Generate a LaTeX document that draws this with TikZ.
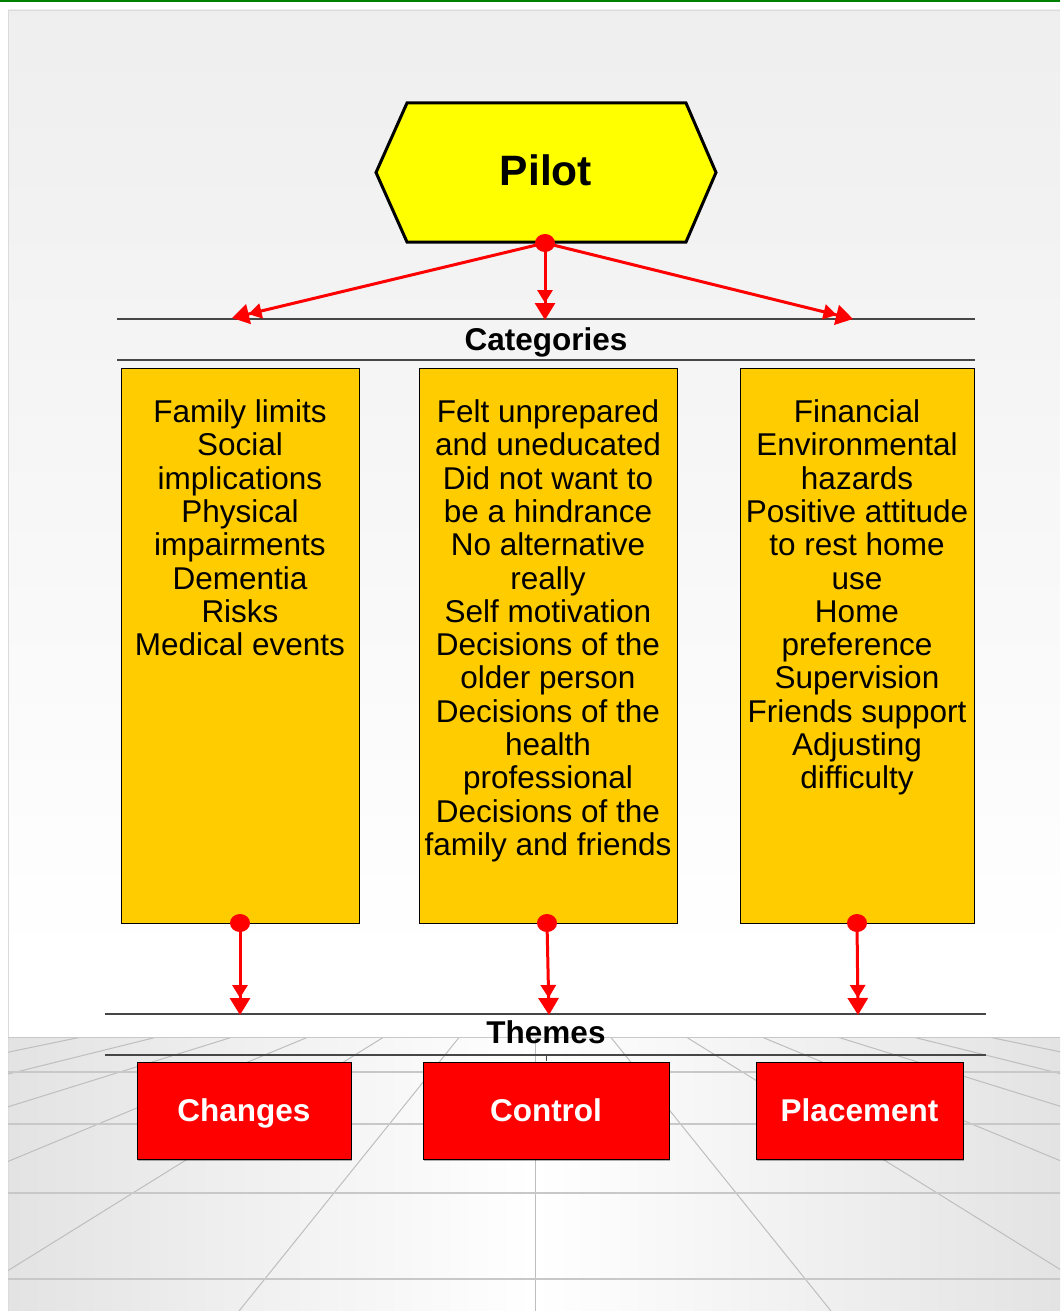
\documentclass[tikz,border=0pt]{standalone}
\usepackage{fontspec}
\setmainfont{Liberation Sans}
\usetikzlibrary{arrows.meta,shapes.geometric,shadows}

\definecolor{pilotyellow}{RGB}{255,255,0}
\definecolor{catorange}{RGB}{255,204,0}
\definecolor{themered}{RGB}{255,0,0}
\definecolor{topgreen}{RGB}{0,128,0}
\definecolor{rulegray}{RGB}{70,70,70}
\definecolor{floorline}{RGB}{200,200,200}
\definecolor{floorray}{RGB}{190,190,190}

\begin{document}
\begin{tikzpicture}[x=1pt,y=-1pt,
  body/.style={font=\fontsize{31.5}{33.3}\selectfont},
  hdr/.style={font=\fontsize{31.5}{33.3}\selectfont\bfseries, anchor=base, inner sep=0pt},
  catbox/.style={draw=black, line width=0.8pt, fill=catorange, inner sep=0pt},
  cattext/.style={body, align=center, anchor=north, inner sep=0pt},
  themebox/.style={draw=black, line width=1pt, fill=themered, inner sep=0pt,
    minimum height=97pt, text=white, text height=25pt, text depth=2.6pt,
    font=\fontsize{31.5}{33.3}\selectfont\bfseries,
    drop shadow={shadow xshift=1pt, shadow yshift=-2pt, opacity=0.3, fill=black}},
  rule/.style={draw=rulegray, line width=1.3pt},
  dot/.style={shape=ellipse, fill=red, inner sep=0pt, minimum width=20pt, minimum height=18pt},
  conn/.style={draw=red, line width=3pt,
    -{Triangle[length=13pt,width=15pt] Triangle[length=17pt,width=20pt]}},
]
\useasboundingbox (0,0) rectangle (1060,1311);

% page and backdrop
\fill[white] (0,0) rectangle (1060,1311);
\fill[topgreen] (0,0) rectangle (1060,2.5);
\shade[top color=black!6.5, bottom color=white] (8,10) rectangle (1060,960);
\fill[white] (8,959) rectangle (1060,1037);
\shade[left color=black!11, right color=black!11, middle color=white] (8,1037) rectangle (1060,1311);
\draw[black!14, line width=0.8pt] (8,1311) -- (8,10) -- (1060,10);

% perspective floor grid
\begin{scope}
  \clip (8,1037) rectangle (1060,1311);
  \foreach \k in {-7,...,7}{
    \draw[floorray, line width=1pt] ({535+\k*75.6},1037) -- ({535+\k*296},1311);
  }
  \foreach \yy in {1037,1072,1124,1193,1279}{
    \draw[floorline, line width=1.8pt] (8,\yy) -- (1060,\yy);
  }
\end{scope}

% top node
\draw[line width=3pt, fill=pilotyellow, line join=miter]
  (407,103) -- (686,103) -- (716,172.5) -- (686,242) -- (407,242) -- (376,172.5) -- cycle;
\node[font=\fontsize{42.5}{45}\selectfont\bfseries, anchor=base, inner sep=0pt] (pilot) at (546,185) {Pilot};

% category band
\draw[rule] (117,319) -- (975,319);
\draw[rule] (117,360) -- (975,360);
\node[hdr] (cathdr) at (546,350) {Categories};

% category boxes
\node[catbox, minimum width=238pt, minimum height=555pt] (b1) at (240,645.5) {};
\node[catbox, minimum width=258pt, minimum height=555pt] (b2) at (548,645.5) {};
\node[catbox, minimum width=234pt, minimum height=555pt] (b3) at (857,645.5) {};

\node[cattext] (t1) at (240,399.5) {Family limits\\Social\\implications\\Physical\\impairments\\Dementia\\Risks\\Medical events};
\node[cattext] (t2) at (548,399.5) {Felt unprepared\\and uneducated\\Did not want to\\be a hindrance\\No alternative\\really\\Self motivation\\Decisions of the\\older person\\Decisions of the\\health\\professional\\Decisions of the\\family and friends};
\node[cattext] (t3) at (857,399.5) {Financial\\Environmental\\hazards\\Positive attitude\\to rest home\\use\\Home\\preference\\Supervision\\Friends support\\Adjusting\\difficulty};

% theme band
\draw[rule] (105,1014) -- (986,1014);
\draw[rule] (105,1055) -- (986,1055);
\draw[rulegray, line width=1pt] (546,1055) -- (546,1061);
\node[hdr] (themehdr) at (546,1043) {Themes};

% theme boxes
\node[themebox, minimum width=214pt] (th1) at (244,1110.5) {Changes};
\node[themebox, minimum width=246pt] (th2) at (546,1110.5) {Control};
\node[themebox, minimum width=207pt] (th3) at (859.5,1110.5) {Placement};

% connectors from the top node
\coordinate (c1) at (232,318);
\coordinate (c2) at (545,320);
\coordinate (c3) at (853,319);
\node[dot] (pd) at (545,243) {};
\draw[conn] (pd.center) -- (c1);
\draw[conn] (pd.center) -- (c2);
\draw[conn] (pd.center) -- (c3);

% connectors from the category boxes
\coordinate (e1) at (240,1015);
\coordinate (e2) at (549,1015);
\coordinate (e3) at (858,1015);
\node[dot] (d1) at (240,923) {};
\node[dot] (d2) at (547,923) {};
\node[dot] (d3) at (857,923) {};
\draw[conn] (d1.center) -- (e1);
\draw[conn] (d2.center) -- (e2);
\draw[conn] (d3.center) -- (e3);
\end{tikzpicture}
\end{document}
